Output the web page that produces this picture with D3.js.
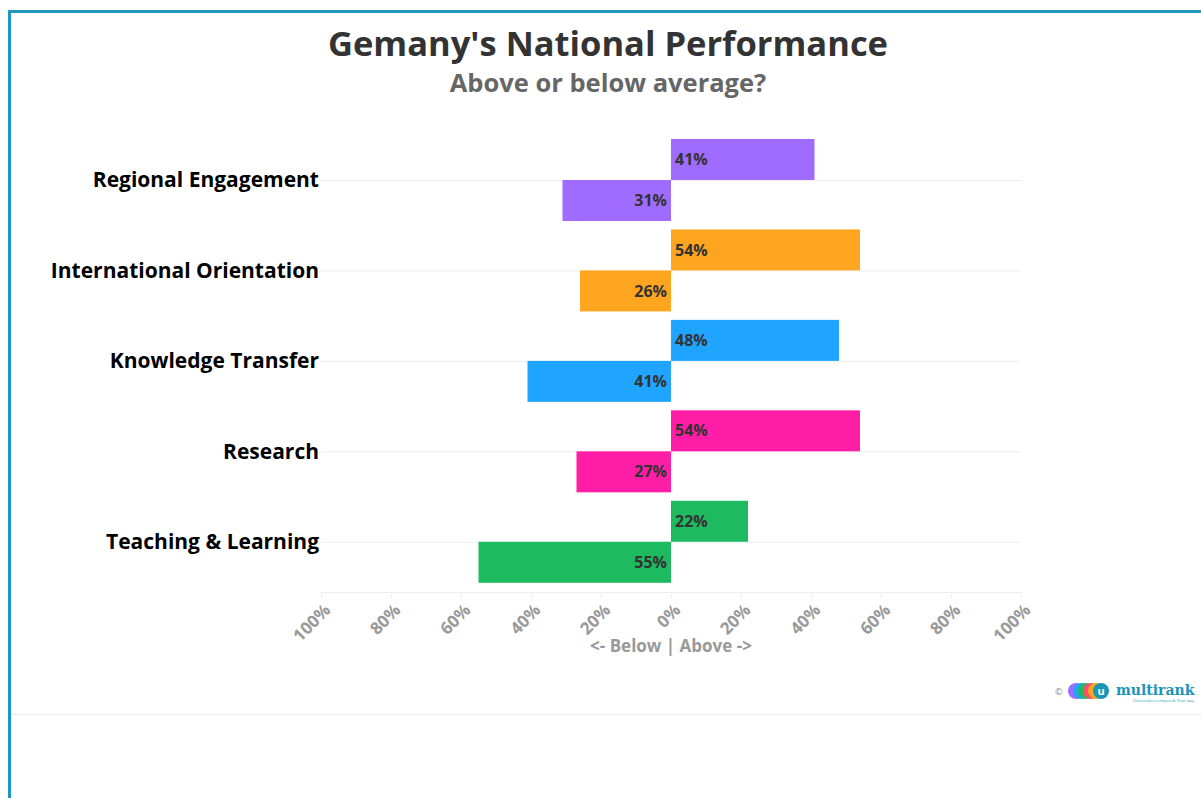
<!DOCTYPE html>
<html>
<head>
<meta charset="utf-8">
<script src="https://cdn.jsdelivr.net/npm/d3@7"></script>
<style>
  body { margin: 0; background: #fff; }
  svg { display: block; font-family: "Open Sans", Lato, sans-serif; }
</style>
</head>
<body>
<div id="chart"></div>
<script>
var categories = ["Regional Engagement", "International Orientation", "Knowledge Transfer", "Research", "Teaching & Learning"];
var above = [41, 54, 48, 54, 22]; // % above average
var below = [31, 26, 41, 27, 55]; // % below average
var colors = ["#a06cff", "#ffa51f", "#1fa5ff", "#ff1ea5", "#1dba5f"];
var tickValues = [-100, -80, -60, -40, -20, 0, 20, 40, 60, 80, 100];

function init(){
    var w = 1201, h = 798;
    var svg = d3.select("#chart").append("svg")
                .attr("width", w)
                .attr("height", h);

    // frame lines
    svg.append("rect").attr("x", 8).attr("y", 10).attr("width", 3).attr("height", h - 10).attr("fill", "#2196c0");
    svg.append("rect").attr("x", 8).attr("y", 10).attr("width", w - 8).attr("height", 3).attr("fill", "#2196c0");
    svg.append("line").attr("x1", 11).attr("x2", w).attr("y1", 714.5).attr("y2", 714.5)
        .attr("stroke", "#eeeeee").attr("stroke-width", 1.5);

    // titles
    svg.append("text").attr("x", 608).attr("y", 56).attr("text-anchor", "middle")
        .attr("font-size", 34.5).attr("font-weight", "bold").attr("fill", "#333")
        .text("Gemany's National Performance");
    svg.append("text").attr("x", 608).attr("y", 92).attr("text-anchor", "middle")
        .attr("font-size", 25.5).attr("font-weight", "bold").attr("fill", "#666")
        .text("Above or below average?");

    var x = d3.scaleLinear().domain([-100, 100]).range([321, 1021]);
    var y = d3.scaleBand().domain(categories).range([134.75, 587]);
    var barH = 41;

    // gridlines at category centres
    svg.append("g").selectAll("line").data(categories).enter().append("line")
        .attr("x1", x(-100)).attr("x2", x(100))
        .attr("y1", function(d){ return y(d) + y.bandwidth()/2 + 0.5; })
        .attr("y2", function(d){ return y(d) + y.bandwidth()/2 + 0.5; })
        .attr("stroke", "#eeeeee");

    // x axis
    var xAxis = d3.axisBottom(x).tickValues(tickValues).tickSize(6)
                  .tickFormat(function(d){ return Math.abs(d) + "%"; });
    var gx = svg.append("g").attr("transform", "translate(0,592)").call(xAxis);
    gx.select(".domain").attr("stroke", "#eeeeee").attr("d", "M" + x(-100) + ",0.5H" + x(100));
    gx.selectAll(".tick line").attr("stroke", "#eeeeee");
    gx.selectAll(".tick text")
        .attr("fill", "#999").attr("font-size", 17).attr("font-weight", "bold")
        .attr("font-family", "\"Open Sans\", sans-serif")
        .attr("text-anchor", "end").attr("dy", "0.35em")
        .attr("transform", "translate(6,15) rotate(-45)")
        .attr("x", 0).attr("y", 0);

    svg.append("text").attr("x", x(0)).attr("y", 652).attr("text-anchor", "middle")
        .attr("font-size", 17).attr("font-weight", "bold").attr("fill", "#999")
        .text("<- Below | Above ->");

    // category labels
    svg.append("g").selectAll("text").data(categories).enter().append("text")
        .attr("x", 319)
        .attr("y", function(d){ return y(d) + y.bandwidth()/2; })
        .attr("dy", "0.35em").attr("text-anchor", "end")
        .attr("font-size", 21).attr("font-weight", "bold").attr("fill", "#000")
        .text(function(d){ return d; });

    var rows = categories.map(function(c, i){ return {cat: c, above: above[i], below: below[i], color: colors[i]}; });
    var g = svg.append("g").selectAll("g").data(rows).enter().append("g");

    g.append("rect")
        .attr("x", x(0))
        .attr("y", function(d){ return y(d.cat) + y.bandwidth()/2 - barH; })
        .attr("width", function(d){ return x(d.above) - x(0); })
        .attr("height", barH)
        .attr("fill", function(d){ return d.color; });
    g.append("rect")
        .attr("x", function(d){ return x(-d.below); })
        .attr("y", function(d){ return y(d.cat) + y.bandwidth()/2; })
        .attr("width", function(d){ return x(0) - x(-d.below); })
        .attr("height", barH)
        .attr("fill", function(d){ return d.color; });

    g.append("text")
        .attr("x", x(0) + 4)
        .attr("y", function(d){ return y(d.cat) + y.bandwidth()/2 - barH/2; })
        .attr("dy", "0.35em").attr("font-size", 16).attr("font-weight", "bold").attr("fill", "#333")
        .text(function(d){ return d.above + "%"; });
    g.append("text")
        .attr("x", x(0) - 4)
        .attr("y", function(d){ return y(d.cat) + y.bandwidth()/2 + barH/2; })
        .attr("dy", "0.35em").attr("text-anchor", "end")
        .attr("font-size", 16).attr("font-weight", "bold").attr("fill", "#333")
        .text(function(d){ return d.below + "%"; });

    // multirank logo
    var logo = svg.append("g").attr("transform", "translate(1055,691)");
    logo.append("text").attr("x", 0).attr("y", 4).attr("font-size", 9).attr("fill", "#888").text("©");
    var dots = ["#a06cff", "#1fa5ff", "#1dba5f", "#ff4d6d", "#ffa51f", "#1b95b7"];
    logo.selectAll("circle").data(dots).enter().append("circle")
        .attr("cx", function(d, i){ return 21 + i * 5; }).attr("cy", 0).attr("r", 8)
        .attr("fill", function(d){ return d; });
    logo.append("text").attr("x", 46).attr("y", 4).attr("text-anchor", "middle")
        .attr("font-size", 11).attr("font-weight", "bold").attr("fill", "#fff").text("u");
    logo.append("text").attr("x", 61).attr("y", 4).attr("font-family", "DejaVu Serif, serif")
        .attr("font-size", 14).attr("font-weight", "bold").attr("fill", "#1b95b7").text("multirank");
    logo.append("text").attr("x", 78).attr("y", 11).attr("font-size", 4).attr("fill", "#1b95b7")
        .text("Universities compared. Your way.");
}
window.onload = init;
</script>
</body>
</html>
